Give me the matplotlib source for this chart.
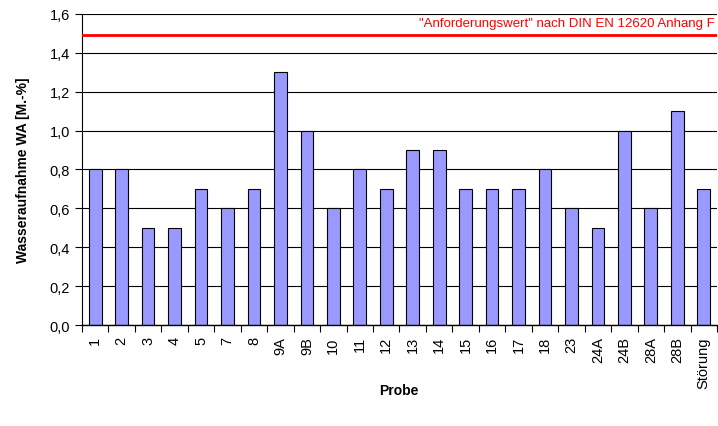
import matplotlib
matplotlib.use("Agg")
import matplotlib.pyplot as plt
import numpy as np

# Wasseraufnahme je Probe
proben = ["1", "2", "3", "4", "5", "7", "8", "9A", "9B", "10", "11", "12",
          "13", "14", "15", "16", "17", "18", "23", "24A", "24B", "28A",
          "28B", "Störung"]
wa = [0.8, 0.8, 0.5, 0.5, 0.7, 0.6, 0.7, 1.3, 1.0, 0.6, 0.8, 0.7,
      0.9, 0.9, 0.7, 0.7, 0.7, 0.8, 0.6, 0.5, 1.0, 0.6, 1.1, 0.7]
anforderung = 1.49
y_ticks = [0.0, 0.2, 0.4, 0.6, 0.8, 1.0, 1.2, 1.4, 1.6]

plt.rcParams["font.family"] = ["Liberation Sans", "DejaVu Sans"]

fig = plt.figure(figsize=(7.18, 4.27), dpi=100)
ax = fig.add_axes([0.1142, 0.2365, 0.8844, 0.7285])

x = np.arange(len(proben))
ax.set_axisbelow(True)
ax.yaxis.grid(True, color="black", lw=0.8)
ax.bar(x, wa, width=0.48, color="#9999FF", edgecolor="black", linewidth=0.8,
       zorder=2)

ax.axhline(anforderung, color="#FF0000", lw=2, zorder=3)
ax.text(len(proben) - 0.6, anforderung + 0.03,
        '"Anforderungswert" nach DIN EN 12620 Anhang F',
        color="#FF0000", fontsize=9.5, ha="right", va="bottom")

ax.set_xlim(-0.5, len(proben) - 0.5)
ax.set_ylim(0, 1.6)
ax.set_yticks(y_ticks)
ax.set_yticklabels([f"{v:.1f}".replace(".", ",") for v in y_ticks],
                   fontsize=10.5)

# category labels centred, ticks on the category boundaries
ax.set_xticks(x)
ax.set_xticklabels(proben, rotation=90, fontsize=10.5)
ax.tick_params(axis="x", which="major", length=0, pad=8)
ax.set_xticks(np.arange(len(proben) + 1) - 0.5, minor=True)
ax.tick_params(axis="x", which="minor", length=5, width=0.8, direction="out")
ax.tick_params(axis="y", length=5, width=0.8, direction="out")

for side in ["top", "right"]:
    ax.spines[side].set_visible(False)
ax.spines["left"].set_linewidth(0.8)
ax.spines["bottom"].set_linewidth(1.0)

fig.text(0.556, 0.084, "Probe", fontsize=10, fontweight="bold",
         ha="center", va="center")
ax.set_ylabel("Wasseraufnahme WA [M.-%]", fontsize=10, fontweight="bold",
              labelpad=14)

fig.savefig("out.png", dpi=100)
